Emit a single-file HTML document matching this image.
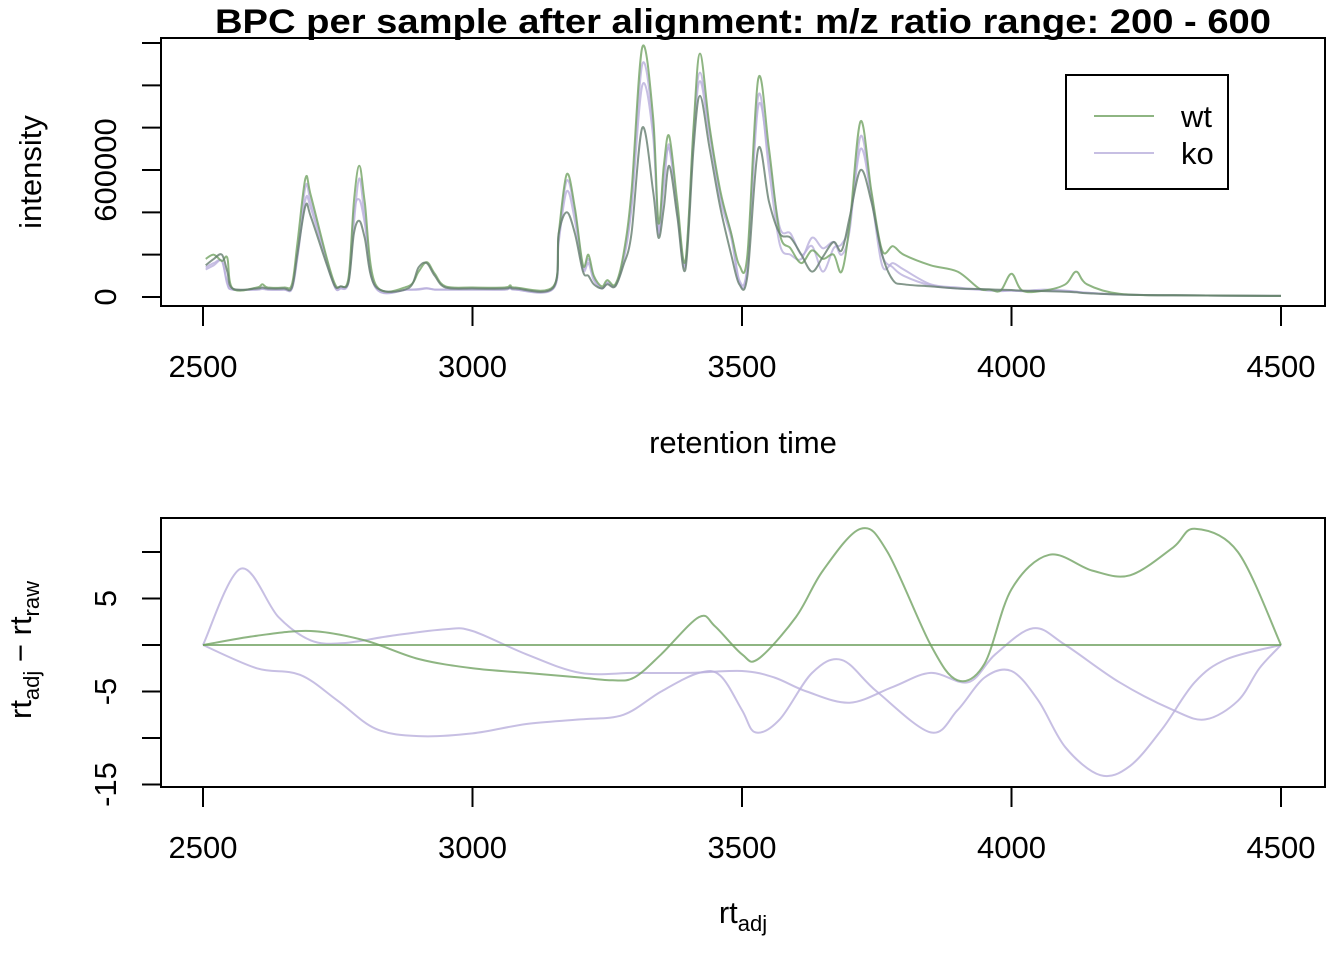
<!DOCTYPE html>
<html><head><meta charset="utf-8"><style>
html,body{margin:0;padding:0;background:#fff;}
svg{display:block;font-family:"Liberation Sans",Arial,sans-serif;}
</style></head><body>
<svg id="chart" width="1344" height="960" viewBox="0 0 1344 960">
<text x="215" y="33" font-size="34" font-weight="bold" textLength="1056" lengthAdjust="spacingAndGlyphs">BPC per sample after alignment: m/z ratio range: 200 - 600</text>
<g id="topPanel"></g>
<g id="botPanel"></g>
</svg>
<script>
const rtGrid=[2505,2520,2535,2545,2555,2600,2610,2620,2650,2665,2675,2690,2700,2730,2745,2755,2770,2780,2790,2800,2820,2880,2900,2915,2930,2950,3000,3060,3070,3080,3150,3160,3175,3190,3205,3215,3225,3240,3250,3265,3280,3295,3315,3335,3345,3355,3365,3380,3395,3410,3422,3440,3460,3480,3495,3510,3530,3550,3570,3590,3610,3630,3650,3670,3685,3700,3720,3740,3760,3780,3800,3850,3900,3940,3960,3980,4000,4020,4060,4100,4120,4140,4200,4300,4500];
// intensity in thousands
const wt1=[180,200,170,185,40,45,60,45,45,60,250,560,480,180,60,50,90,450,620,450,60,50,120,165,110,50,45,45,55,45,50,300,580,420,150,200,100,50,80,60,200,500,1180,850,350,620,760,450,170,800,1150,800,500,300,150,200,1030,700,300,230,160,220,180,200,120,350,830,500,220,240,200,150,120,40,35,30,110,30,30,60,120,60,15,8,5];
const wt2=[150,180,200,120,40,40,45,40,40,45,200,430,380,150,50,50,70,300,360,280,50,40,140,160,100,45,40,40,45,40,45,300,400,300,120,100,60,40,60,50,150,300,800,500,280,420,620,380,130,700,950,700,420,200,60,100,700,450,300,280,200,120,190,260,220,380,600,450,200,80,60,50,40,38,36,34,33,30,28,25,22,18,12,8,5];
const ko1=[140,160,170,60,35,35,40,35,35,40,200,520,450,170,45,40,80,400,460,350,45,35,35,40,35,35,35,35,45,35,40,280,550,400,140,180,90,40,70,55,180,450,1100,800,300,580,700,420,160,750,1020,760,480,300,80,150,900,650,330,300,200,240,120,230,250,350,700,470,150,160,130,60,45,35,30,28,30,28,35,30,25,20,12,8,5];
const ko2=[130,150,170,70,35,35,38,35,35,40,180,460,420,160,45,40,70,350,560,380,45,35,38,42,35,35,35,35,42,35,40,260,500,360,130,160,80,40,65,55,170,420,1000,760,320,520,720,400,150,780,1060,780,460,280,70,140,950,600,250,200,180,280,230,260,200,320,760,480,200,140,100,55,40,35,32,30,30,28,30,28,25,20,12,8,5];
const xTicks=[2500,3000,3500,4000,4500];
const yTicksTop=[0,200000,400000,600000,800000,1000000,1200000];
const yLabelsTop=[0,600000];
// bottom panel: rt adjustment curves
const adjWt2Rt=[2500,2600,2700,2800,2900,3000,3100,3200,3260,3300,3350,3420,3450,3500,3530,3600,3650,3720,3770,3850,3900,3950,4000,4070,4150,4220,4300,4340,4420,4500];
const adjWt2=[0,1,1.5,0.5,-1.5,-2.5,-3,-3.5,-3.8,-3.5,-1,3,2,-1,-1.5,3,8,12.5,10,0,-3.8,-2,6,9.7,8,7.5,10.5,12.5,10,0];
const adjKo1Rt=[2500,2570,2640,2700,2760,2850,2950,3000,3100,3200,3300,3400,3500,3560,3620,3700,3780,3850,3920,3970,4040,4100,4200,4300,4360,4420,4460,4500];
const adjKo1=[0,8.2,3,0.5,0.2,1,1.7,1.5,-1,-3,-3,-3,-2.8,-3.5,-5,-6.2,-4.5,-3,-4,-1,1.8,0,-4,-7,-8,-6,-2.5,0];
const adjKo2Rt=[2500,2600,2680,2750,2820,2900,3000,3100,3200,3280,3350,3420,3460,3500,3525,3570,3630,3685,3750,3850,3900,3950,4000,4050,4100,4165,4220,4280,4340,4400,4500];
const adjKo2=[0,-2.5,-3.2,-6,-9,-9.8,-9.5,-8.5,-8,-7.5,-5,-3,-3.3,-7,-9.4,-8,-3,-1.6,-5,-9.4,-7,-3.5,-2.8,-6,-11,-14,-13,-9,-4,-1.5,0];
const adjWt1Rt=[2500,4500];
const adjWt1=[0,0];
const yTicksBot=[10,5,0,-5,-10,-15];
const yLabelsBot=[5,-5,-15];

const NS='http://www.w3.org/2000/svg';
const FS=31;
function mk(p,tag,attrs){const e=document.createElementNS(NS,tag);for(const k in attrs)e.setAttribute(k,attrs[k]);p.appendChild(e);return e;}
const X=rt=>203+(rt-2500)*0.539;
const Yt=v=>297-v*127/600000;
const Yb=v=>645-v*9.3;
const GREEN='rgba(110,160,95,0.78)', LAV='rgba(185,175,220,0.8)';

function frame(g,ptop,pbottom,yTicks,yLabels,Y,fmt){
  const r=mk(g,'rect',{x:161,y:ptop,width:1164,height:pbottom-ptop,fill:'none',stroke:'#000','stroke-width':2});
  
  
  mk(g,'line',{x1:203,x2:1281,y1:pbottom,y2:pbottom,stroke:'#000','stroke-width':2});
  xTicks.forEach(t=>{
    const l=mk(g,'line',{x1:X(t),x2:X(t),y1:pbottom,y2:pbottom+20,stroke:'#000','stroke-width':2});
    
    
    const tx=mk(g,'text',{x:X(t),y:pbottom+71,'text-anchor':'middle','font-size':FS});
    tx.textContent=t;
    
    
  });
  yTicks.forEach(t=>{
    const l=mk(g,'line',{x1:142,x2:161,y1:Y(t),y2:Y(t),stroke:'#000','stroke-width':2});
    
    
  });
  yLabels.forEach(t=>{
    const tx=mk(g,'text',{x:0,y:0,'text-anchor':'middle','font-size':FS,transform:`translate(116,${Y(t)}) rotate(-90)`});
    tx.textContent=fmt(t);
    
    
  });
}
function smoothPath(g,rts,vals,Y,color,name,scale){
  const P=rts.map((r,i)=>[X(r),Y(vals[i]*scale)]);
  let d='M'+P[0][0].toFixed(1)+','+P[0][1].toFixed(1);
  for(let i=0;i<P.length-1;i++){
    const p0=P[Math.max(i-1,0)],p1=P[i],p2=P[i+1],p3=P[Math.min(i+2,P.length-1)];
    const c1=[p1[0]+(p2[0]-p0[0])/6,p1[1]+(p2[1]-p0[1])/6];
    const c2=[p2[0]-(p3[0]-p1[0])/6,p2[1]-(p3[1]-p1[1])/6];
    d+=` C${c1[0].toFixed(1)},${c1[1].toFixed(1)} ${c2[0].toFixed(1)},${c2[1].toFixed(1)} ${p2[0].toFixed(1)},${p2[1].toFixed(1)}`;
  }
  const p=mk(g,'path',{d:d,fill:'none',stroke:color,'stroke-width':2,'stroke-linejoin':'round'});
  
  
}
const topG=document.getElementById('topPanel');
frame(topG,38,306,yTicksTop,yLabelsTop,Yt,v=>String(v));
smoothPath(topG,rtGrid,ko1,Yt,LAV,'bpc-ko-1',1000);
smoothPath(topG,rtGrid,ko2,Yt,LAV,'bpc-ko-2',1000);
smoothPath(topG,rtGrid,wt1,Yt,GREEN,'bpc-wt-1',1000);
smoothPath(topG,rtGrid,wt2,Yt,'rgba(100,125,110,0.8)','bpc-wt-2',1000);
let t=mk(topG,'text',{x:743,y:453,'text-anchor':'middle','font-size':FS});t.textContent='retention time';


t=mk(topG,'text',{x:0,y:0,'text-anchor':'middle','font-size':FS,transform:'translate(41,172) rotate(-90)'});t.textContent='intensity';


// legend
const lg=mk(topG,'g',{});


mk(lg,'rect',{x:1066,y:75,width:162,height:114,fill:'#fff',stroke:'#000','stroke-width':2});
mk(lg,'line',{x1:1094,x2:1154,y1:116,y2:116,stroke:GREEN,'stroke-width':2});
mk(lg,'line',{x1:1094,x2:1154,y1:153,y2:153,stroke:LAV,'stroke-width':2});
t=mk(lg,'text',{x:1181,y:127,'font-size':FS});t.textContent='wt';


t=mk(lg,'text',{x:1181,y:164,'font-size':FS});t.textContent='ko';



const botG=document.getElementById('botPanel');
frame(botG,518,787,yTicksBot,yLabelsBot,Yb,v=>String(v));
smoothPath(botG,adjKo1Rt,adjKo1,Yb,LAV,'adj-ko-1',1);
smoothPath(botG,adjKo2Rt,adjKo2,Yb,LAV,'adj-ko-2',1);
smoothPath(botG,adjWt1Rt,adjWt1,Yb,GREEN,'adj-wt-1',1);
smoothPath(botG,adjWt2Rt,adjWt2,Yb,GREEN,'adj-wt-2',1);
t=mk(botG,'text',{x:743,y:923,'text-anchor':'middle','font-size':FS});
t.innerHTML='rt<tspan font-size="22" dy="8">adj</tspan>';


t=mk(botG,'text',{x:0,y:0,'text-anchor':'middle','font-size':FS,transform:'translate(31,650) rotate(-90)'});
t.innerHTML='rt<tspan font-size="22" dy="8">adj</tspan><tspan dy="-8"> \u2212 rt</tspan><tspan font-size="22" dy="8">raw</tspan>';


</script>
</body></html>
